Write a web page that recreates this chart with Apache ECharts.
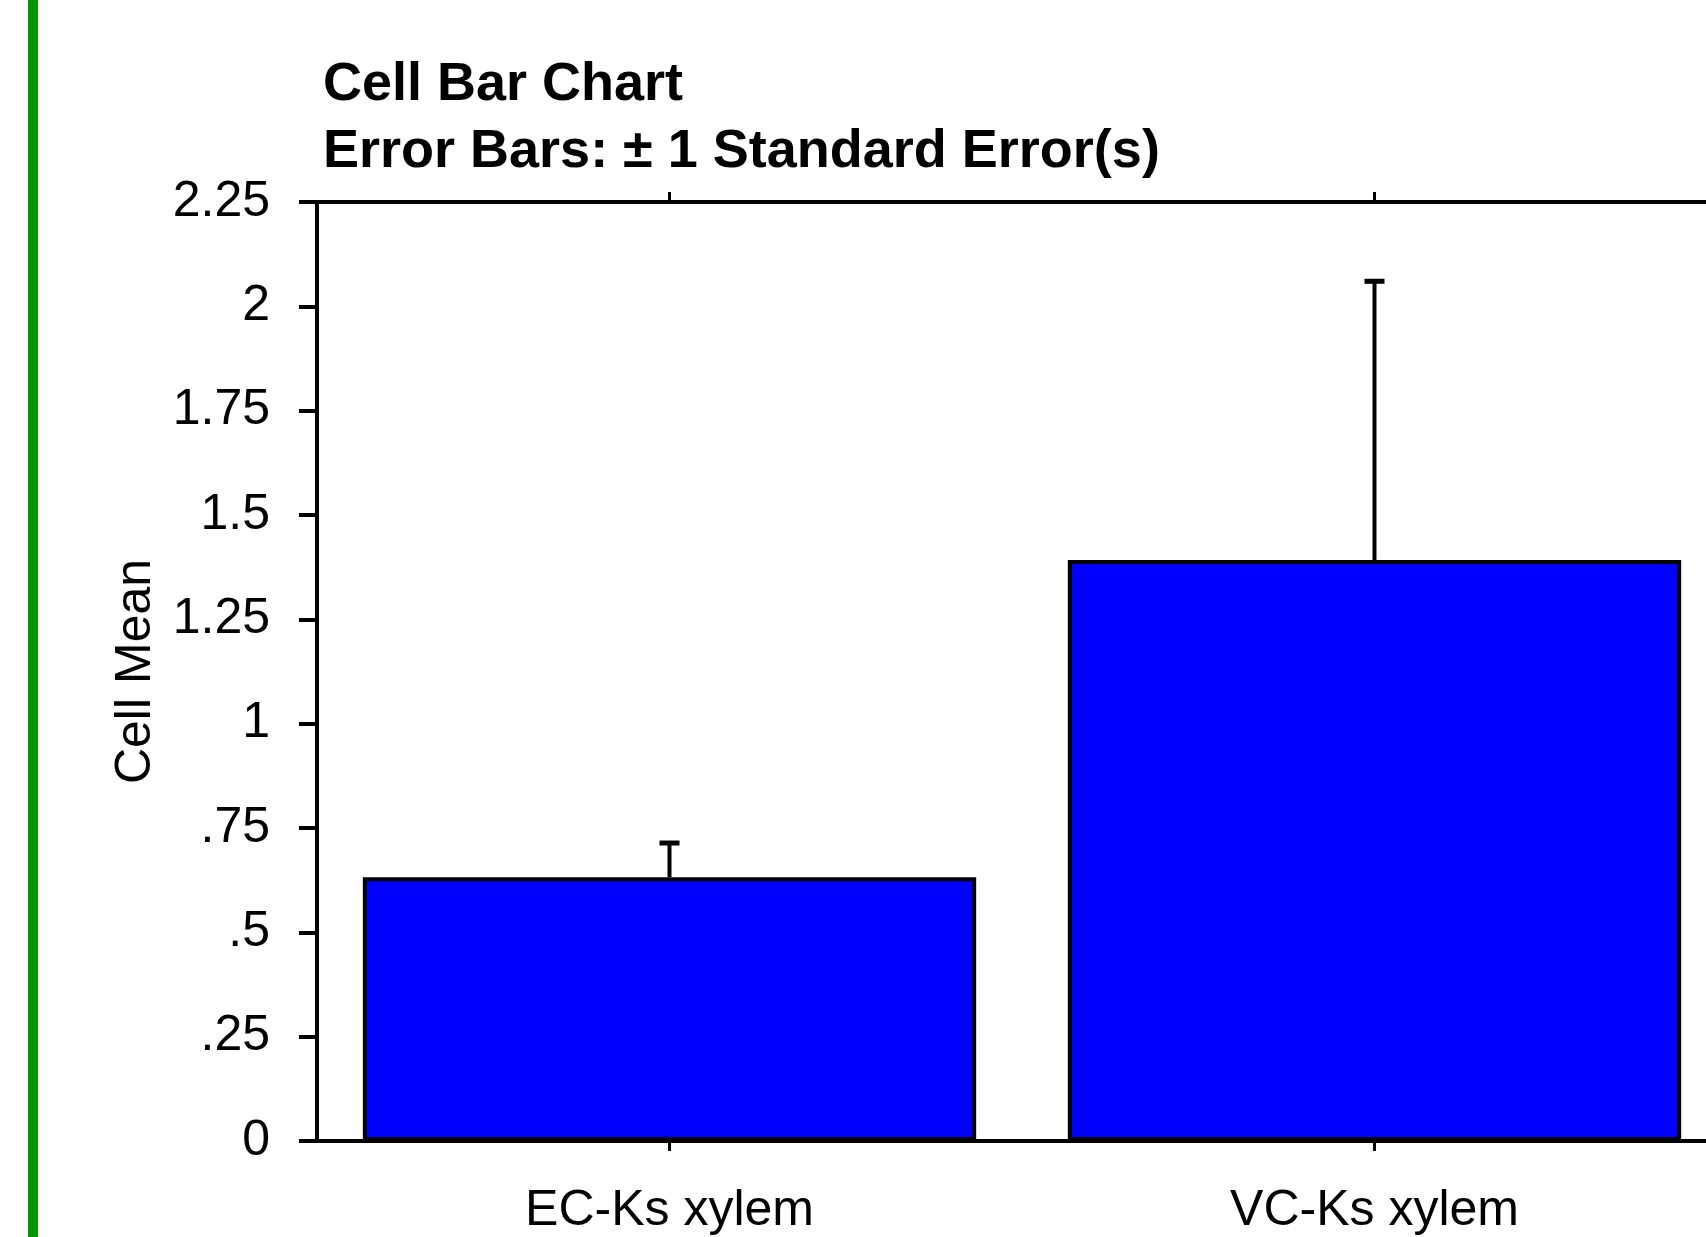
<!DOCTYPE html>
<html>
<head>
<meta charset="utf-8">
<script src="https://cdn.jsdelivr.net/npm/echarts@6/dist/echarts.min.js"></script>
<style>
  html, body { margin: 0; padding: 0; background: #fff; }
  #main { width: 1706px; height: 1237px; }
</style>
</head>
<body>
<div id="main"></div>
<script>
  const categories = ['EC-Ks xylem', 'VC-Ks xylem'];
  const cellMeans = [0.632, 1.392];
  const stdErrors = [0.082, 0.668];
  const yTickLabels = ['0', '.25', '.5', '.75', '1', '1.25', '1.5', '1.75', '2', '2.25'];

  const font = "'Liberation Sans', Arial, sans-serif";
  const chart = echarts.init(document.getElementById('main'));

  chart.setOption({
    backgroundColor: '#fff',
    animation: false,
    title: {
      text: 'Cell Bar Chart\nError Bars: ± 1 Standard Error(s)',
      left: 323,
      top: 52,
      padding: 0,
      textStyle: { fontFamily: font, fontSize: 54, fontWeight: 'bold', color: '#000', lineHeight: 67 }
    },
    graphic: [{
      type: 'rect',
      shape: { x: 28, y: 0, width: 10, height: 1237 },
      style: { fill: '#009600' }
    }],
    grid: { left: 317, top: 202, bottom: 96, width: 1410, outerBoundsMode: 'none' },
    xAxis: [
      {
        type: 'category',
        data: categories,
        position: 'bottom',
        axisLine: { lineStyle: { color: '#000', width: 4 } },
        axisTick: { show: true, alignWithLabel: true, length: 10, lineStyle: { color: '#000', width: 3 } },
        axisLabel: { fontFamily: font, fontSize: 50, color: '#000', margin: 45 }
      },
      {
        type: 'category',
        data: categories,
        position: 'top',
        axisLine: { lineStyle: { color: '#000', width: 4 } },
        axisTick: { show: true, alignWithLabel: true, length: 10, lineStyle: { color: '#000', width: 3 } },
        axisLabel: { show: false }
      }
    ],
    yAxis: {
      type: 'value',
      min: 0,
      max: 2.25,
      interval: 0.25,
      name: 'Cell Mean',
      nameLocation: 'middle',
      nameGap: 156,
      nameTextStyle: { fontFamily: font, fontSize: 50, color: '#000' },
      splitLine: { show: false },
      axisLine: { show: true, lineStyle: { color: '#000', width: 4 } },
      axisTick: { show: true, length: 18, lineStyle: { color: '#000', width: 4 } },
      axisLabel: {
        fontFamily: font, fontSize: 50, color: '#000', margin: 47,
        formatter: (v, i) => yTickLabels[i]
      }
    },
    series: [
      {
        type: 'bar',
        data: cellMeans,
        barWidth: '87%',
        itemStyle: { color: '#0000ff', borderColor: '#000', borderWidth: 4 }
      },
      {
        type: 'custom',
        z: 5,
        data: categories.map((c, i) => [i, cellMeans[i], stdErrors[i]]),
        renderItem: function (params, api) {
          const base = api.coord([api.value(0), api.value(1)]);
          const top = api.coord([api.value(0), api.value(1) + api.value(2)]);
          const style = { stroke: '#000', lineWidth: 4 };
          return {
            type: 'group',
            children: [
              { type: 'line', shape: { x1: top[0], y1: base[1], x2: top[0], y2: top[1] }, style: style },
              { type: 'line', shape: { x1: top[0] - 10, y1: top[1], x2: top[0] + 10, y2: top[1] }, style: { stroke: '#000', lineWidth: 5 } }
            ]
          };
        }
      }
    ]
  });
</script>
</body>
</html>
